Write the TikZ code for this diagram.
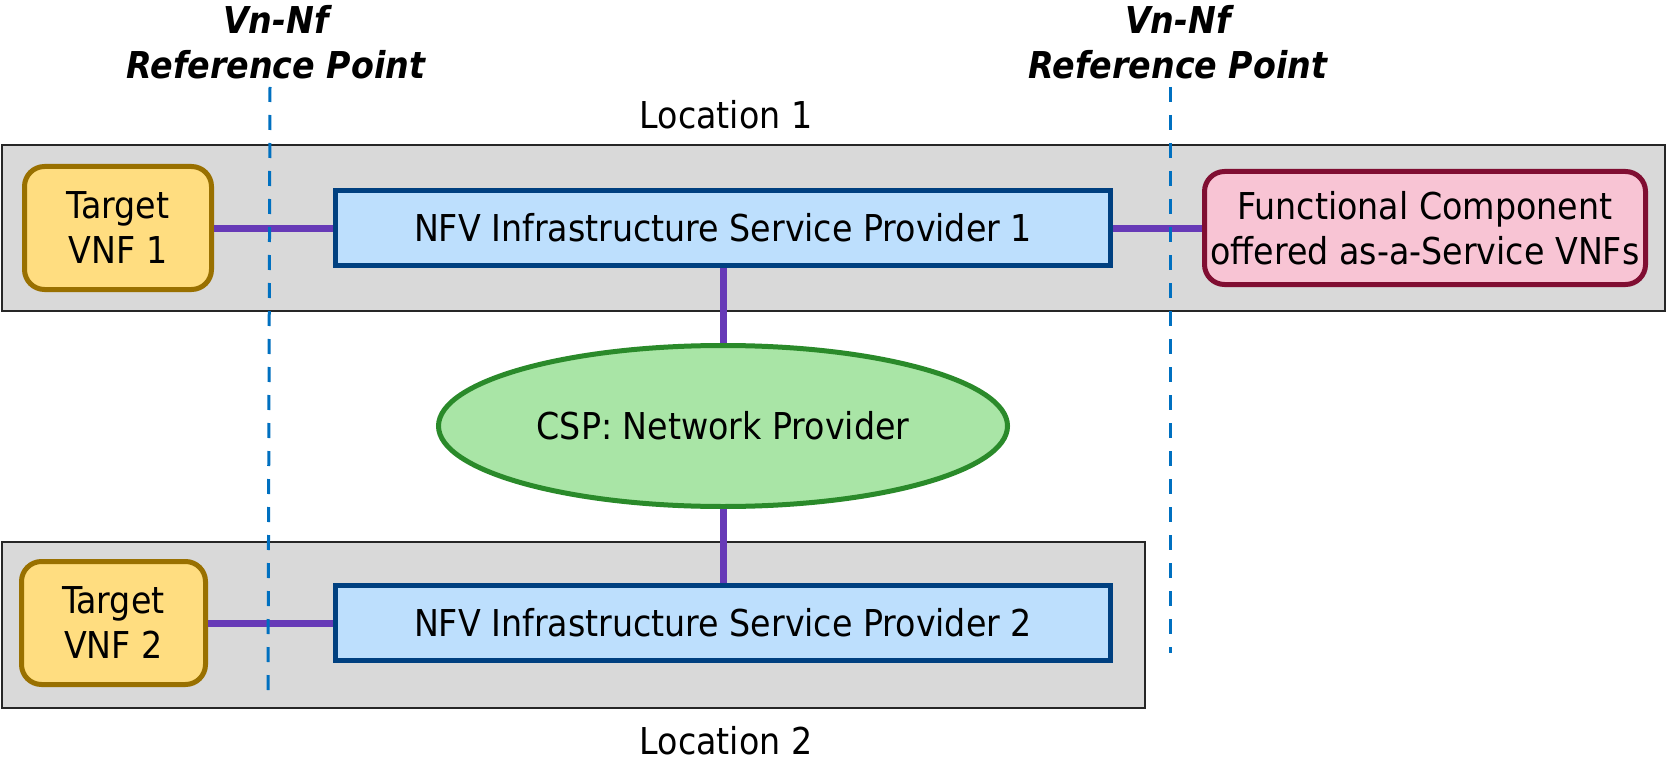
\documentclass[tikz,border=0pt]{standalone}
\usepackage{fontspec}
\setmainfont{DejaVu Sans Condensed}
\usetikzlibrary{shapes.geometric}
\definecolor{locgray}{RGB}{217,217,217}
\definecolor{vnffill}{RGB}{255,221,128}
\definecolor{vnfdraw}{RGB}{153,112,0}
\definecolor{nfvfill}{RGB}{189,223,253}
\definecolor{nfvdraw}{RGB}{0,64,128}
\definecolor{fcfill}{RGB}{248,196,212}
\definecolor{fcdraw}{RGB}{128,14,50}
\definecolor{cspfill}{RGB}{169,229,166}
\definecolor{cspdraw}{RGB}{42,138,42}
\definecolor{linkcol}{RGB}{103,58,183}
\definecolor{refcol}{RGB}{0,112,192}
\begin{document}
\begin{tikzpicture}[x=1pt,y=-1pt,
  every node/.style={inner sep=0pt, font=\fontsize{37}{45}\selectfont},
  locbox/.style={draw=black!85, line width=2.5pt, fill=locgray, minimum width=#1, minimum height=166},
  vnfbox/.style={draw=vnfdraw, line width=5pt, fill=vnffill, rounded corners=20pt, align=center},
  nfvbox/.style={draw=nfvdraw, line width=5pt, fill=nfvfill, minimum width=775, minimum height=75},
  fcbox/.style={draw=fcdraw, line width=5pt, fill=fcfill, rounded corners=20pt, align=center, minimum width=441, minimum height=113},
  cspnode/.style={ellipse, draw=cspdraw, line width=5pt, fill=cspfill, minimum width=569, minimum height=161},
  link/.style={draw=linkcol, line width=7pt},
  refline/.style={draw=refcol, line width=3pt, dash pattern=on 15pt off 13pt},
  reflabel/.style={align=center, font=\fontsize{37}{45}\selectfont\bfseries\itshape},
  loclabel/.style={}
]
\useasboundingbox (0,0) rectangle (1667,762);
\fill[white] (0,0) rectangle (1667,762);
\node[locbox=1663] (loc1) at (833.5,228) {};
\node[locbox=1143] (loc2) at (573.5,625) {};
\node[vnfbox, minimum width=187, minimum height=123] (tv1) at (118,228) {Target\\VNF 1};
\node[nfvbox] (nfv1) at (723,228) {NFV Infrastructure Service Provider 1};
\node[fcbox] (fc) at (1425,228) {Functional Component\\offered as-a-Service VNFs};
\node[cspnode] (csp) at (723,426) {CSP: Network Provider};
\node[nfvbox] (nfv2) at (723,623) {NFV Infrastructure Service Provider 2};
\node[vnfbox, minimum width=184, minimum height=123] (tv2) at (113.5,623) {Target\\VNF 2};
\draw[link] (tv1.east) -- (nfv1.west);
\draw[link] (nfv1.east) -- (fc.west);
\draw[link] (nfv1.south) -- (csp.north);
\draw[link] (csp.south) -- (nfv2.north);
\draw[link] (tv2.east) -- (nfv2.west);
\coordinate (r1top) at (270,87);
\coordinate (r1bot) at (268,690);
\coordinate (r2top) at (1170,87);
\coordinate (r2bot) at (1170,653);
\draw[refline] (r1top) -- (r1bot);
\draw[refline] (r2top) -- (r2bot);
\node[reflabel] (rp1) at (276,42) {Vn-Nf\\Reference Point};
\node[reflabel] (rp2) at (1178,42) {Vn-Nf\\Reference Point};
\node[loclabel] (l1) at (726,115) {Location 1};
\node[loclabel] (l2) at (726,741) {Location 2};
\end{tikzpicture}
\end{document}
